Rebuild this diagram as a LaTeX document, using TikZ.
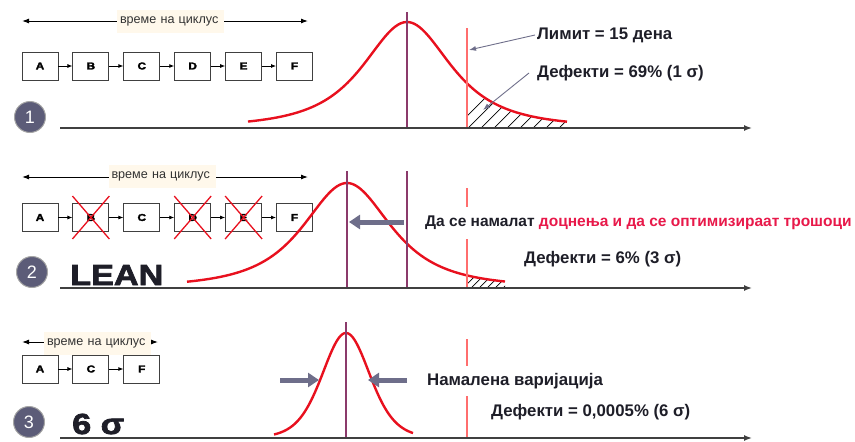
\documentclass[tikz,border=0pt]{standalone}
\usepackage{fontspec}
\setmainfont{Liberation Sans}
\newfontfamily\heavyfont{Liberation Sans}[BoldFeatures={FakeBold=2.5,FakeStretch=1.18}]
\usetikzlibrary{arrows.meta,positioning}
\definecolor{mypurple}{RGB}{139,58,107}
\definecolor{myred}{RGB}{232,16,30}
\definecolor{mypink}{RGB}{255,110,110}
\definecolor{myslate}{RGB}{110,110,138}
\definecolor{mybadge}{RGB}{92,92,120}
\definecolor{mycream}{RGB}{255,248,235}
\definecolor{mytext}{RGB}{30,30,40}
\definecolor{myrose}{RGB}{232,25,74}

\begin{document}
\begin{tikzpicture}[x=1pt, y=-1pt]
    \tikzstyle{box}=[draw=black!75, line width=0.9pt, minimum width=36pt, minimum height=28pt, inner sep=0pt, font=\heavyfont\bfseries\fontsize{10}{10}\selectfont]
    \tikzstyle{flow}=[-{Latex[length=5pt,width=4pt]}, line width=0.8pt]
    \tikzstyle{cyclearrow}=[{Latex[length=7pt,width=5pt]}-{Latex[length=7pt,width=5pt]}, line width=1pt]
    \tikzstyle{cyclabel}=[fill=mycream, text width=101pt, align=left, inner xsep=3pt, minimum height=23pt, font=\fontsize{12.6}{12.6}\selectfont, text=black!80]
    \tikzstyle{badge}=[circle, fill=mybadge, draw=black!35, line width=1pt, minimum size=31pt, inner sep=0pt, text=white, font=\fontsize{18}{18}\selectfont]
    \tikzstyle{axis}=[-{Latex[length=8pt,width=6pt]}, line width=1.4pt, draw=black!75]
    \tikzstyle{mean}=[mypurple, line width=2.4pt]
    \tikzstyle{limit}=[mypink, line width=1.2pt]
    \tikzstyle{bell}=[myred, line width=2.4pt]
    \tikzstyle{note}=[font=\bfseries\fontsize{16.8}{16.8}\selectfont, text=mytext, anchor=west, inner sep=0pt]
    \tikzstyle{big}=[font=\heavyfont\bfseries\fontsize{29}{29}\selectfont, text=mytext, anchor=base west, inner sep=0pt]
    \tikzstyle{pointer}=[-{Latex[length=7pt,width=5pt]}, myslate, line width=0.9pt]
    \tikzstyle{push}=[-{Triangle[length=11pt,width=14pt]}, myslate, line width=5pt]
    \tikzstyle{strike}=[myred, line width=1.3pt]
    \useasboundingbox (0,0) rectangle (855,442);

    % Panel 1: original process
    \coordinate (cl1) at (22,21);
    \coordinate (cr1) at (308,21);
    \draw[cyclearrow] (cl1) -- (cr1);
    \node[cyclabel] (cyc1) at (170.5,21.5) {време на циклус};
    \node[box] (a1) at (40,66) {A};
    \node[box, right=14pt of a1] (b1) {B};
    \node[box, right=14pt of b1] (c1) {C};
    \node[box, right=14pt of c1] (d1) {D};
    \node[box, right=14pt of d1] (e1) {E};
    \node[box, right=14pt of e1] (f1) {F};
    \draw[flow] (a1) -- (b1);
    \draw[flow] (b1) -- (c1);
    \draw[flow] (c1) -- (d1);
    \draw[flow] (d1) -- (e1);
    \draw[flow] (e1) -- (f1);
    \node[badge] (n1) at (30,117) {1};
    \coordinate (ax1s) at (60,128);
    \coordinate (ax1e) at (752,128);
    \begin{scope}
      \clip (467,128) -- plot[domain=467:567, samples=40] (\x, {128-106/(1+((\x-407)/68)^2)^1.5}) -- (567,128) -- cycle;
      \foreach \h in {455,468,...,585} \draw[line width=0.7pt] (\h,128) -- ++(40,-40);
    \end{scope}
    \draw[bell] plot[domain=248:567, samples=120, smooth] (\x, {128-106/(1+((\x-407)/68)^2)^1.5});
    \coordinate (m1t) at (407,12);
    \coordinate (m1b) at (407,128);
    \draw[mean] (m1t) -- (m1b);
    \coordinate (l1t) at (467,28);
    \coordinate (l1b) at (467,128);
    \draw[limit] (l1t) -- (l1b);
    \draw[axis] (ax1s) -- (ax1e);
    \node[note] (lim) at (537,35) {Лимит = 15 дена};
    \node[note] (def1) at (537,73) {Дефекти = 69\% (1 σ)};
    \coordinate (limpt) at (469,50);
    \coordinate (defpt) at (483,110);
    \draw[pointer] ([xshift=-2pt]lim.west) -- (limpt);
    \draw[pointer] ([xshift=-8pt]def1.west) -- (defpt);

    % Panel 2: LEAN
    \coordinate (cl2) at (22,177);
    \coordinate (cr2) at (308,177);
    \draw[cyclearrow] (cl2) -- (cr2);
    \node[cyclabel] (cyc2) at (162,176.5) {време на циклус};
    \node[box] (a2) at (40,217.5) {A};
    \node[box, right=14pt of a2] (b2) {B};
    \node[box, right=14pt of b2] (c2) {C};
    \node[box, right=14pt of c2] (d2) {D};
    \node[box, right=14pt of d2] (e2) {E};
    \node[box, right=14pt of e2] (f2) {F};
    \draw[flow] (a2) -- (b2);
    \draw[flow] (b2) -- (c2);
    \draw[flow] (c2) -- (d2);
    \draw[flow] (d2) -- (e2);
    \draw[flow] (e2) -- (f2);
    \draw[strike] ([shift={(0,-7)}]b2.north west) -- ([shift={(0,7)}]b2.south east);
    \draw[strike] ([shift={(0,-7)}]b2.north east) -- ([shift={(0,7)}]b2.south west);
    \draw[strike] ([shift={(0,-7)}]d2.north west) -- ([shift={(0,7)}]d2.south east);
    \draw[strike] ([shift={(0,-7)}]d2.north east) -- ([shift={(0,7)}]d2.south west);
    \draw[strike] ([shift={(0,-7)}]e2.north west) -- ([shift={(0,7)}]e2.south east);
    \draw[strike] ([shift={(0,-7)}]e2.north east) -- ([shift={(0,7)}]e2.south west);
    \node[badge] (n2) at (32,272) {2};
    \node[big] (lean) at (70,285) {LEAN};
    \coordinate (ax2s) at (60,288);
    \coordinate (ax2e) at (752,288);
    \begin{scope}
      \clip (467,288) -- plot[domain=467:505, samples=20] (\x, {288-105/(1+((\x-347)/68)^2)^1.5}) -- (505,288) -- cycle;
      \foreach \h in {463,471,...,515} \draw[line width=0.7pt] (\h,288) -- ++(20,-20);
    \end{scope}
    \draw[bell] plot[domain=187:505, samples=120, smooth] (\x, {288-105/(1+((\x-347)/68)^2)^1.5});
    \coordinate (m2t) at (347,171);
    \coordinate (m2b) at (347,288);
    \draw[mean] (m2t) -- (m2b);
    \coordinate (o2t) at (407,171);
    \coordinate (o2b) at (407,288);
    \draw[mean] (o2t) -- (o2b);
    \coordinate (l2t) at (467,188);
    \coordinate (l2b) at (467,288);
    \draw[limit] (l2t) -- (l2b);
    \draw[axis] (ax2s) -- (ax2e);
    \coordinate (sh2s) at (404,222);
    \coordinate (sh2e) at (349,222);
    \draw[push] (sh2s) -- (sh2e);
    \node[note, font=\bfseries\fontsize{15.5}{15.5}\selectfont, fill=white, inner xsep=2pt, inner ysep=9pt] (goal) at (423,223) {Да се намалат \textcolor{myrose}{доцнења и да се оптимизираат трошоци}};
    \node[note] (def2) at (524,259) {Дефекти = 6\% (3 σ)};

    % Panel 3: 6 sigma
    \coordinate (cl3) at (22,342);
    \coordinate (cr3) at (158,342);
    \draw[cyclearrow] (cl3) -- (cr3);
    \node[cyclabel] (cyc3) at (97.5,343.5) {време на циклус};
    \node[box] (a3) at (40,369) {A};
    \node[box, right=14pt of a3] (c3) {C};
    \node[box, right=14pt of c3] (f3) {F};
    \draw[flow] (a3) -- (c3);
    \draw[flow] (c3) -- (f3);
    \node[badge] (n3) at (29,422) {3};
    \node[big] (six) at (72,434) {6 σ};
    \coordinate (ax3s) at (60,438);
    \coordinate (ax3e) at (752,438);
    \draw[bell] plot[domain=274:413, samples=120, smooth] (\x, {438-105/(1+((\x-346)/73)^2)^5});
    \coordinate (m3t) at (346,322);
    \coordinate (m3b) at (346,438);
    \draw[mean] (m3t) -- (m3b);
    \coordinate (l3t) at (467,339);
    \coordinate (l3b) at (467,438);
    \draw[limit] (l3t) -- (l3b);
    \draw[axis] (ax3s) -- (ax3e);
    \coordinate (sh3ls) at (280,380);
    \coordinate (sh3le) at (319,380);
    \coordinate (sh3rs) at (407,380);
    \coordinate (sh3re) at (368,380);
    \draw[push] (sh3ls) -- (sh3le);
    \draw[push] (sh3rs) -- (sh3re);
    \node[note, fill=white, inner xsep=2pt, inner ysep=7pt] (vari) at (425,381) {Намалена варијација};
    \node[note] (def3) at (491,412) {Дефекти = 0,0005\% (6 σ)};
\end{tikzpicture}
\end{document}
